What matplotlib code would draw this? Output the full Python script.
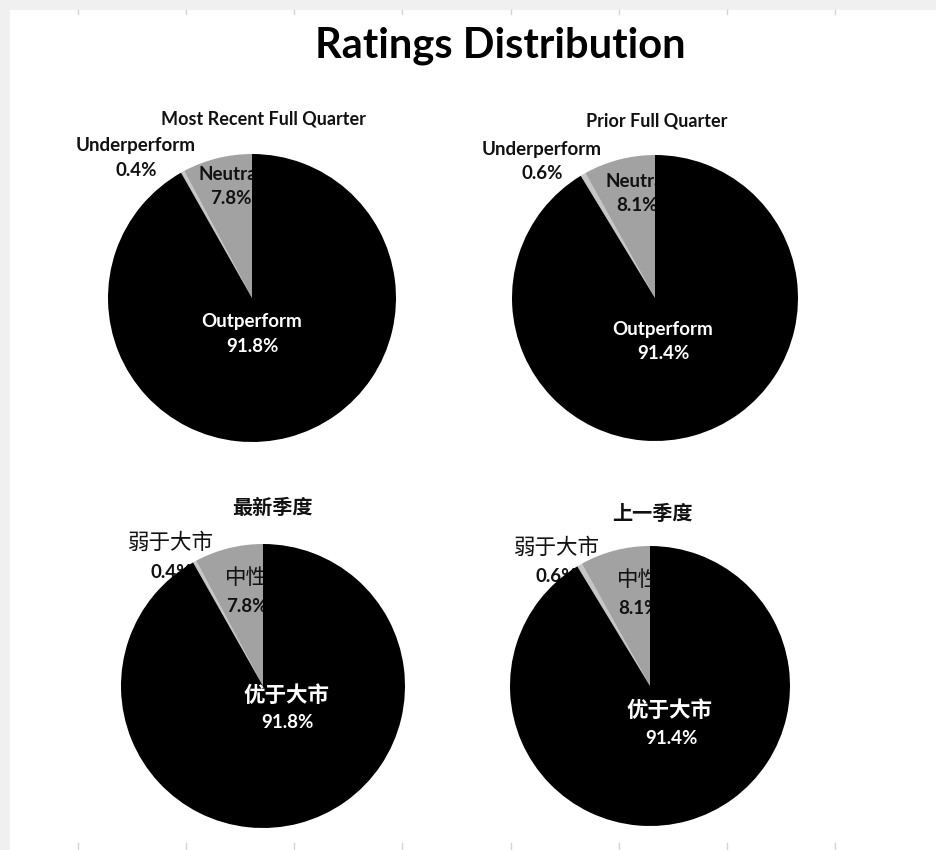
import matplotlib
matplotlib.use("Agg")
import matplotlib.pyplot as plt
from matplotlib.patches import Rectangle

# Rating categories (clockwise from 12 o'clock) and shares in percent
categories_en = ["Outperform", "Underperform", "Neutral"]
categories_cn = ["优于大市", "弱于大市", "中性"]
recent_quarter = [91.8, 0.4, 7.8]
prior_quarter = [91.4, 0.6, 8.1]
titles_en = ["Most Recent Full Quarter", "Prior Full Quarter"]
titles_cn = ["最新季度", "上一季度"]
main_title = "Ratings Distribution"
grid_columns = [78, 186, 294, 402, 511, 619, 727, 835]

W, H = 937, 850
slice_colors = ["#000000", "#c6c6c6", "#a2a2a2"]
LATIN = ["Lato", "DejaVu Sans"]
CJK = ["Noto Sans CJK SC", "DejaVu Sans"]
TXT = "#111111"
PCT_SIZE = 13.5

fig = plt.figure(figsize=(W / 100, H / 100), dpi=100)
fig.patch.set_facecolor("#f0f0f0")
ax = fig.add_axes([0, 0, 1, 1])
ax.set_xlim(0, W)
ax.set_ylim(0, H)
ax.axis("off")


def Y(y):
    return H - y


# sheet area and its column marks
ax.add_patch(Rectangle((10, 0), W - 10, H - 10, facecolor="white",
                       edgecolor="none", zorder=0))
for x in grid_columns:
    ax.plot([x, x], [Y(10), Y(14)], color="#d4d4d4", lw=1, zorder=0.5)
    ax.plot([x, x], [Y(843), Y(850)], color="#d4d4d4", lw=1, zorder=0.5)

ax.text(500, Y(46), main_title, ha="center", va="center",
        fontsize=30, fontweight="bold", family=LATIN, color="#000000")

panels = [
    dict(values=recent_quarter, names=categories_en, title=titles_en[0],
         center=(252, 298), r=144, title_xy=(263, 119), name_font=LATIN,
         name_weight="bold", name_size=13.5, title_font=LATIN, title_size=13,
         labels=[((252, 321), (252, 346)), ((136, 145), (136, 170)),
                 ((230, 174), (231, 198))]),
    dict(values=prior_quarter, names=categories_en, title=titles_en[1],
         center=(655, 298), r=143, title_xy=(657, 121), name_font=LATIN,
         name_weight="bold", name_size=13.5, title_font=LATIN, title_size=13,
         labels=[((663, 329), (663, 353)), ((542, 149), (542, 173)),
                 ((637, 181), (637, 205))]),
    dict(values=recent_quarter, names=categories_cn, title=titles_cn[0],
         center=(263, 686), r=142, title_xy=(272, 507), name_font=CJK,
         name_weight="normal", name_size=15.5, title_font=CJK, title_size=14.5,
         labels=[((287, 695), (287, 723)), ((171, 543), (171, 572)),
                 ((246, 578), (247, 607))]),
    dict(values=prior_quarter, names=categories_cn, title=titles_cn[1],
         center=(650, 686), r=140, title_xy=(652, 513), name_font=CJK,
         name_weight="normal", name_size=15.5, title_font=CJK, title_size=14.5,
         labels=[((670, 710), (671, 739)), ((557, 548), (556, 577)),
                 ((638, 580), (639, 608))]),
]

for p in panels:
    cx, cy = p["center"]
    wedges, _ = ax.pie(p["values"], colors=slice_colors, startangle=90,
                       counterclock=False, center=(cx, Y(cy)), radius=p["r"],
                       frame=True, wedgeprops=dict(linewidth=0))
    # the large slice sits above the small-slice labels, hiding their overflow
    wedges[0].set_zorder(3)
    wedges[1].set_zorder(1)
    wedges[2].set_zorder(1)

    ax.text(p["title_xy"][0], Y(p["title_xy"][1]), p["title"], ha="center",
            va="center", fontsize=p["title_size"], fontweight="bold",
            family=p["title_font"], color=TXT, zorder=5)

    for i, ((nx, ny), (px, py)) in enumerate(p["labels"]):
        inside_big = i == 0
        col = "white" if inside_big else TXT
        z = 4 if inside_big else 2
        weight = "bold" if inside_big else p["name_weight"]
        ax.text(nx, Y(ny), p["names"][i], ha="center", va="center",
                fontsize=p["name_size"], fontweight=weight,
                family=p["name_font"], color=col, zorder=z)
        ax.text(px, Y(py), f"{p['values'][i]:.1f}%", ha="center", va="center",
                fontsize=PCT_SIZE, fontweight="bold", family=LATIN, color=col,
                zorder=z)

ax.set_xlim(0, W)
ax.set_ylim(0, H)
ax.set_aspect("auto")
ax.axis("off")

fig.savefig("out.png", dpi=100, facecolor=fig.get_facecolor())
